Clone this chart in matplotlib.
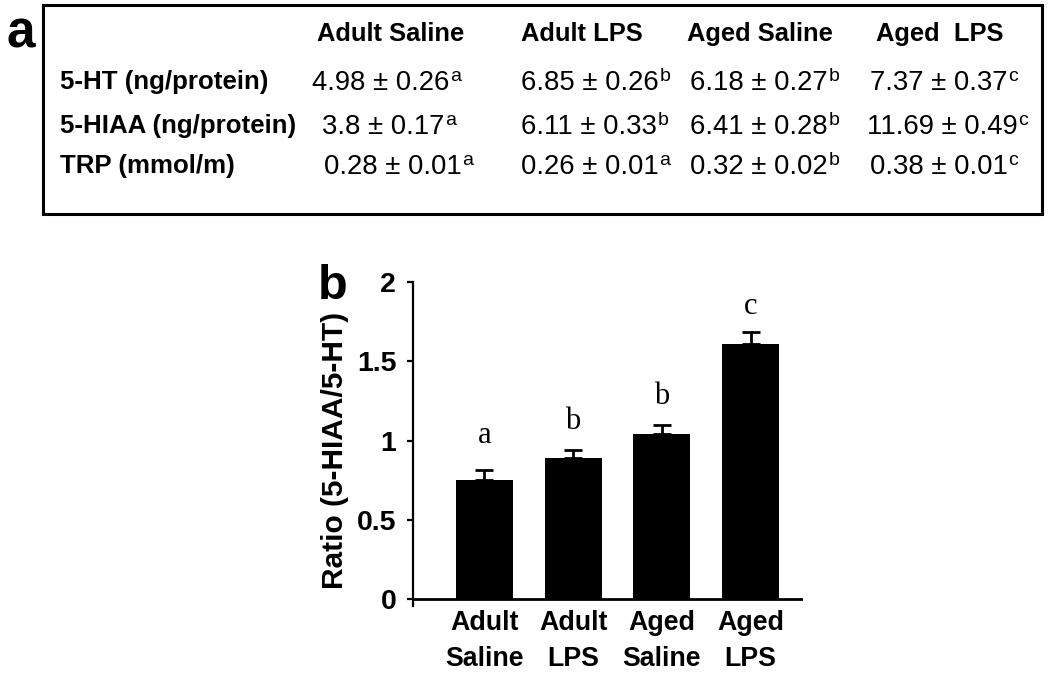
import matplotlib
matplotlib.use("Agg")
import matplotlib.pyplot as plt
from matplotlib.patches import Rectangle

# ---------------- data ----------------
table_columns = ["Adult Saline", "Adult LPS", "Aged Saline", "Aged  LPS"]
table_rows = ["5-HT (ng/protein)", "5-HIAA (ng/protein)", "TRP (mmol/m)"]
ht_mean = [4.98, 6.85, 6.18, 7.37]
ht_sem = [0.26, 0.26, 0.27, 0.37]
hiaa_mean = [3.8, 6.11, 6.41, 11.69]
hiaa_sem = [0.17, 0.33, 0.28, 0.49]
trp_mean = [0.28, 0.26, 0.32, 0.38]
trp_sem = [0.01, 0.01, 0.02, 0.01]
ht_sig = ["a", "b", "b", "c"]
hiaa_sig = ["a", "b", "b", "c"]
trp_sig = ["a", "a", "b", "c"]

groups = ["Adult\nSaline", "Adult\nLPS", "Aged\nSaline", "Aged\nLPS"]
ratio = [0.75, 0.89, 1.04, 1.61]
ratio_err = [0.065, 0.053, 0.058, 0.075]
ratio_sig = ["a", "b", "b", "c"]
sig_y = [0.985, 1.075, 1.23, 1.80]
yticks = [0, 0.5, 1, 1.5, 2]
ytick_labels = ["0", "0.5", "1", "1.5", "2"]

# ---------------- figure ----------------
plt.rcParams['font.family'] = ['Liberation Sans', 'DejaVu Sans']
W, H = 1050, 676
fig = plt.figure(figsize=(W / 100, H / 100), dpi=100)

# overlay axes in pixel coordinates for the table (panel a)
ov = fig.add_axes([0, 0, 1, 1])
ov.set_xlim(0, W)
ov.set_ylim(H, 0)
ov.axis("off")

ov.add_patch(Rectangle((43, 5), 999, 209, fill=False, lw=2.2, ec="black"))
ov.text(7, 34, "a", fontsize=37, fontweight="bold", ha="left", va="center")

header_x = [391, 582, 760, 940]
header_y = 34
for x, c in zip(header_x, table_columns):
    ov.text(x, header_y, c, fontsize=18.4, fontweight="bold", ha="center", va="center")

row_y = [82, 126, 166]
means = [ht_mean, hiaa_mean, trp_mean]
sems = [ht_sem, hiaa_sem, trp_sem]
sigs = [ht_sig, hiaa_sig, trp_sig]
cell_x = [[312, 521, 690, 870],
          [322, 521, 690, 867],
          [324, 521, 690, 870]]
for r, (label, y) in enumerate(zip(table_rows, row_y)):
    ov.text(60, y, label, fontsize=18.6, fontweight="bold", ha="left", va="center")
    for c in range(4):
        t = ov.text(cell_x[r][c], y + 1, f"{means[r][c]:g} \u00b1 {sems[r][c]:.2f}",
                    fontsize=19.8, ha="left", va="center")
        ov.annotate(sigs[r][c], xy=(1, 1.0), xycoords=t, xytext=(0.5, 1.5),
                    textcoords="offset points", fontsize=14, ha="left", va="top")

# ---------------- panel b ----------------
px_unit = 158.5
bottom_px = 599 + 0.045 * px_unit
top_px = 282
left_px, right_px = 413, 803
ax = fig.add_axes([left_px / W, 1 - bottom_px / H,
                   (right_px - left_px) / W, (bottom_px - top_px) / H])

xs = list(range(len(groups)))
ax.bar(xs, ratio, width=0.64, color="black", zorder=2)
ax.errorbar(xs, ratio, yerr=[[0] * 4, ratio_err], fmt="none", ecolor="black",
            elinewidth=2, capsize=6.5, capthick=2, zorder=1)
for x, s, y in zip(xs, ratio_sig, sig_y):
    ax.text(x, y, s, family="Liberation Serif", fontsize=22, ha="center", va="baseline")

ax.set_xlim(-0.806, 3.592)
ax.set_ylim(-0.045, 2)
ax.axhline(0, color="black", lw=2, zorder=3)
for sp in ["top", "right", "bottom"]:
    ax.spines[sp].set_visible(False)
ax.spines["left"].set_linewidth(1.6)
ax.spines["left"].set_bounds(-0.045, 2)

ax.set_yticks(yticks)
ax.set_yticklabels(ytick_labels, fontsize=20.5, fontweight="bold")
ax.tick_params(axis="y", direction="out", length=4, width=1.6, pad=8)
ax.set_xticks(xs)
ax.set_xticklabels(groups, fontsize=19.3, fontweight="bold", linespacing=1.5)
ax.tick_params(axis="x", length=0, pad=3)

ax.set_ylabel("Ratio (5-HIAA/5-HT)", fontsize=21.5, fontweight="bold", va="center")
ax.yaxis.set_label_coords(-0.2, 0.48)

fig.text(318 / W, 1 - 286 / H, "b", fontsize=35, fontweight="bold", ha="left", va="center")

fig.savefig("out.png", dpi=100)
